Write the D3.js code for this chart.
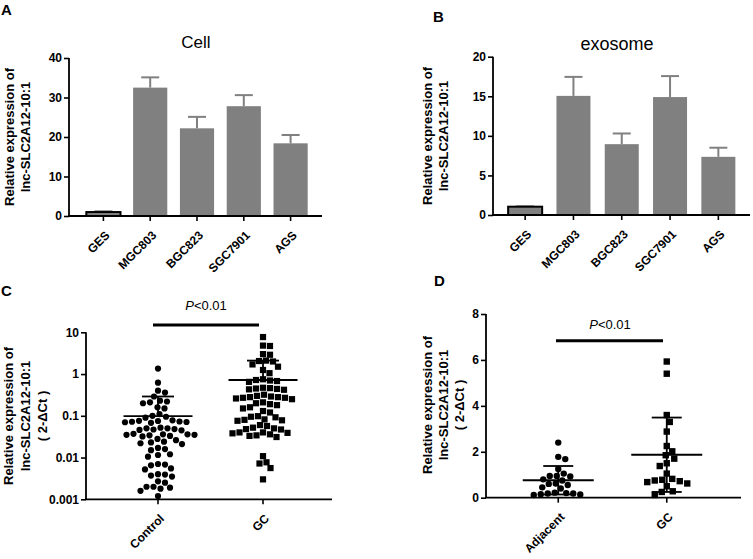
<!DOCTYPE html>
<html><head><meta charset="utf-8">
<script src="https://cdn.jsdelivr.net/npm/d3@7"></script>
<style>
body{margin:0;background:#fff}
text{font-family:Arial,"Liberation Sans",sans-serif;fill:#000}
</style></head><body>
<svg id="c" width="753" height="559" xmlns="http://www.w3.org/2000/svg"></svg>
<script>
// ---------- data ----------
const cellLines = ["GES","MGC803","BGC823","SGC7901","AGS"];
const cellMean  = [1.0, 32.5, 22.2, 27.8, 18.4];
const cellErr   = [0.2, 2.6, 2.9, 2.8, 2.1];
const exoMean   = [1.05, 15.05, 8.95, 14.9, 7.35];
const exoErr    = [0.05, 2.4, 1.35, 2.65, 1.15];
const ticksA = [0,10,20,30,40];
const ticksB = [0,5,10,15,20];

const groupsC = ["Control","GC"];
const controlC = [1.35,0.62,0.40,0.36,0.29,0.23,0.21,0.20,0.22,0.16,0.15,
  0.11,0.10,0.095,0.09,
  0.078,0.076,0.073,0.071,0.070,0.068,0.072,0.075,
  0.052,0.050,0.048,0.047,0.046,0.045,0.050,
  0.037,0.036,0.035,0.034,0.033,0.032,0.035,0.036,
  0.028,0.026,0.024,0.022,0.021,0.023,
  0.017,0.016,0.015,
  0.012,0.0105,0.0115,
  0.0070,0.0068,0.0065,
  0.0055,0.0052,
  0.0040,0.0039,0.0037,0.0035,
  0.0027,0.0025,
  0.0020,0.0020,0.0019,0.0018,
  0.0016,0.0012];
const gcC = [7.7,4.7,4.8,2.9,3.0,2.1,2.05,2.0,1.7,1.5,1.25,1.05,
  0.75,0.72,0.70,0.68,0.65,
  0.46,0.45,0.44,0.43,0.42,0.47,
  0.32,0.30,
  0.28,0.27,0.26,0.27,0.28,0.29,0.25,
  0.20,0.19,0.18,0.21,
  0.15,0.16,
  0.13,0.12,
  0.098,0.095,0.092,
  0.082,0.078,0.076,0.080,
  0.060,0.057,
  0.050,0.048,0.047,0.052,
  0.040,0.039,0.036,0.033,0.031,0.034,0.038,0.040,
  0.0108,0.0072,0.0077,0.0056,0.003];
const meanC  = [0.098, 0.72];
const upperC = [0.29, 2.1];
const ticksC = [0.001,0.01,0.1,1,10];
const tickLabelsC = ["0.001","0.01","0.1","1","10"];

const groupsD = ["Adjacent","GC"];
const adjD = [2.4,1.78,1.68,1.25,1.05,0.95,0.92,0.95,0.80,0.75,0.62,0.60,0.55,0.45,0.40,
  0.22,0.18,0.15,0.12,0.14,0.18,0.20];
const gcD = [5.93,5.4,3.6,3.3,2.88,2.25,2.02,1.85,1.7,1.5,1.38,1.05,0.82,0.78,0.75,0.72,
  0.68,0.62,0.5,0.28,0.25,0.12];
const meanD = [0.76, 1.87];
const sdD   = [0.62, 1.62];
const ticksD = [0,2,4,6,8];

const yLabel2 = ["Relative expression of","lnc-SLC2A12-10:1"];
const yLabel3 = ["Relative expression of","lnc-SLC2A12-10:1","( 2-\u0394Ct )"];

// ---------- helpers ----------
const svg = d3.select("#c");
const BAR = "#808080";

function styleAxis(g){
  g.select(".domain").remove();
  g.selectAll(".tick line").attr("stroke","#000").attr("stroke-width",1.6);
  g.selectAll(".tick text").attr("font-size",12).attr("font-weight","bold")
    .attr("font-family","Arial, 'Liberation Sans', sans-serif").attr("fill","#000");
}
function axesLines(x0,x1,y0,y1){
  svg.append("line").attr("x1",x0).attr("x2",x0).attr("y1",y0).attr("y2",y1)
    .attr("stroke","#000").attr("stroke-width",1.8);
  svg.append("line").attr("x1",x0-0.9).attr("x2",x1).attr("y1",y1).attr("y2",y1)
    .attr("stroke","#000").attr("stroke-width",1.8);
}
function yLabel(lines,cx,cy,gap){
  lines.forEach((t,i)=>{
    svg.append("text").attr("transform",`translate(${cx+i*gap},${cy}) rotate(-90)`)
      .attr("text-anchor","middle").attr("dy","0.35em")
      .attr("font-size",13).attr("font-weight","bold").text(t);
  });
}
function xLabels(scale,names,y){
  names.forEach(n=>{
    const x = scale(n) + scale.bandwidth()/2;
    svg.append("text").attr("transform",`translate(${x+4},${y+17}) rotate(-45)`)
      .attr("text-anchor","end").attr("dy","0.35em")
      .attr("font-size",12).attr("font-weight","bold").text(n);
  });
}
function panelLetter(t,x,y){
  svg.append("text").attr("x",x).attr("y",y).attr("font-size",15).attr("font-weight","bold").text(t);
}

// ---------- bar panels ----------
function barPanel(o){
  const y = d3.scaleLinear().domain(o.domain).range([o.y1,o.y0]);
  const x = d3.scaleBand().domain(cellLines).range(o.xr).paddingInner(o.pad).paddingOuter(o.pad/2);
  const gy = svg.append("g").attr("transform",`translate(${o.ax},0)`)
    .call(d3.axisLeft(y).tickValues(o.ticks).tickSize(5).tickPadding(2));
  styleAxis(gy);
  const gx = svg.append("g").attr("transform",`translate(0,${o.y1})`)
    .call(d3.axisBottom(x).tickSize(5).tickFormat(""));
  styleAxis(gx);
  cellLines.forEach((c,i)=>{
    const cx = x(c)+x.bandwidth()/2;
    const top = y(o.mean[i]), up = y(o.mean[i]+o.err[i]);
    svg.append("line").attr("x1",cx).attr("x2",cx).attr("y1",top).attr("y2",up)
      .attr("stroke",BAR).attr("stroke-width",2);
    svg.append("line").attr("x1",cx-9).attr("x2",cx+9).attr("y1",up).attr("y2",up)
      .attr("stroke",BAR).attr("stroke-width",2);
  });
  svg.selectAll(null).data(cellLines).enter().append("rect")
    .attr("x",c=>x(c)).attr("width",x.bandwidth())
    .attr("y",(c,i)=>y(o.mean[i])).attr("height",(c,i)=>o.y1-y(o.mean[i]))
    .attr("fill",BAR)
    .attr("stroke",(c,i)=>i===0?"#000":"none").attr("stroke-width",2);
  axesLines(o.ax,o.axEnd,o.y0,o.y1);
  xLabels(x,cellLines,o.y1);
  svg.append("text").attr("x",o.tx).attr("y",o.ty).attr("text-anchor","middle")
    .attr("font-size",o.tsize).text(o.title);
}
barPanel({domain:[0,40],ticks:ticksA,y0:58,y1:216,ax:69,axEnd:322,xr:[80,314],pad:0.27,
  mean:cellMean,err:cellErr,title:"Cell",tx:196,ty:48,tsize:17});
barPanel({domain:[0,20],ticks:ticksB,y0:56.7,y1:215,ax:493,axEnd:750,xr:[501,742.5],pad:0.296,
  mean:exoMean,err:exoErr,title:"exosome",tx:617,ty:50,tsize:18});
yLabel(yLabel2,9,137,16);
yLabel(yLabel2,427,136,16);
panelLetter("A",1,15);
panelLetter("B",433,22);

// ---------- beeswarm ----------
function swarm(values,yScale,cx,d){
  const pts = values.map(v=>({v,y:yScale(v)})).sort((a,b)=>a.y-b.y);
  const placed=[];
  pts.forEach(p=>{
    let best=null;
    for(let k=0;k<400 && best===null;k++){
      const offs = k===0?[0]:[k*0.5,-k*0.5];
      for(const off of offs){
        if(placed.every(q=>(q.x-off)**2+(q.y-p.y)**2>=d*d)){best=off;break;}
      }
    }
    p.x=cx+best; placed.push({x:best,y:p.y});
  });
  return pts;
}
function drawDots(pts,shape,size){
  if(shape==="circle"){
    svg.append("g").selectAll("circle").data(pts).enter().append("circle")
      .attr("cx",p=>p.x).attr("cy",p=>p.y).attr("r",size/2).attr("fill","#000");
  } else {
    svg.append("g").selectAll("rect").data(pts).enter().append("rect")
      .attr("x",p=>p.x-size/2).attr("y",p=>p.y-size/2).attr("width",size).attr("height",size).attr("fill","#000");
  }
}
function hline(x0,x1,y,w){
  svg.append("line").attr("x1",x0).attr("x2",x1).attr("y1",y).attr("y2",y).attr("stroke","#000").attr("stroke-width",w||1.8);
}
function vline(x,y0,y1){
  svg.append("line").attr("x1",x).attr("x2",x).attr("y1",y0).attr("y2",y1).attr("stroke","#000").attr("stroke-width",1.8);
}

// ---------- panel C ----------
{
  const y = d3.scaleLog().domain([0.001,10]).range([499.3,332.3]);
  const x = d3.scaleBand().domain(groupsC).range([105.5,315.5]);
  const gy = svg.append("g").attr("transform","translate(86,0)")
    .call(d3.axisLeft(y).tickValues(ticksC).tickFormat((d,i)=>tickLabelsC[i]).tickSize(5).tickPadding(2));
  styleAxis(gy);
  const gx = svg.append("g").attr("transform","translate(0,499.3)")
    .call(d3.axisBottom(x).tickSize(5).tickFormat(""));
  styleAxis(gx);
  const cx = groupsC.map(g=>x(g)+x.bandwidth()/2);
  drawDots(swarm(controlC,y,cx[0],7),"circle",6.2);
  drawDots(swarm(gcC,y,cx[1],7),"square",6.2);
  [0,1].forEach(i=>{
    hline(cx[i]-34.5,cx[i]+34.5,y(meanC[i]));
    vline(cx[i],y(meanC[i]),y(upperC[i]));
    hline(cx[i]-16,cx[i]+16,y(upperC[i]));
  });
  axesLines(86,332,332.3,499.3);
  xLabels(x,groupsC,499.3);
  hline(153,259,325,3);
  const t = svg.append("text").attr("x",206).attr("y",310).attr("text-anchor","middle").attr("font-size",13);
  t.append("tspan").attr("font-style","italic").text("P");
  t.append("tspan").text("<0.01");
  yLabel(yLabel3,8,416,17);
  panelLetter("C",1,296);
}

// ---------- panel D ----------
{
  const y = d3.scaleLinear().domain([0,8]).range([497.7,314]);
  const x = d3.scaleBand().domain(groupsD).range([504,721]);
  const gy = svg.append("g").attr("transform","translate(486,0)")
    .call(d3.axisLeft(y).tickValues(ticksD).tickSize(5).tickPadding(2));
  styleAxis(gy);
  const gx = svg.append("g").attr("transform","translate(0,497.7)")
    .call(d3.axisBottom(x).tickSize(5).tickFormat(""));
  styleAxis(gx);
  const cx = groupsD.map(g=>x(g)+x.bandwidth()/2);
  drawDots(swarm(adjD,y,cx[0],7),"circle",6.4);
  drawDots(swarm(gcD,y,cx[1],7.5),"square",6.4);
  [0,1].forEach(i=>{
    hline(cx[i]-35.5,cx[i]+35.5,y(meanD[i]));
    vline(cx[i],y(meanD[i]-sdD[i]),y(meanD[i]+sdD[i]));
    hline(cx[i]-15,cx[i]+15,y(meanD[i]+sdD[i]));
    hline(cx[i]-15,cx[i]+15,y(meanD[i]-sdD[i]));
  });
  axesLines(486,741,314,497.7);
  xLabels(x,groupsD,497.7);
  hline(556,663,340.7,3);
  const t = svg.append("text").attr("x",610).attr("y",329).attr("text-anchor","middle").attr("font-size",13);
  t.append("tspan").attr("font-style","italic").text("P");
  t.append("tspan").text("<0.01");
  yLabel(yLabel3,427,405,16);
  panelLetter("D",434,286);
}
</script></body></html>
